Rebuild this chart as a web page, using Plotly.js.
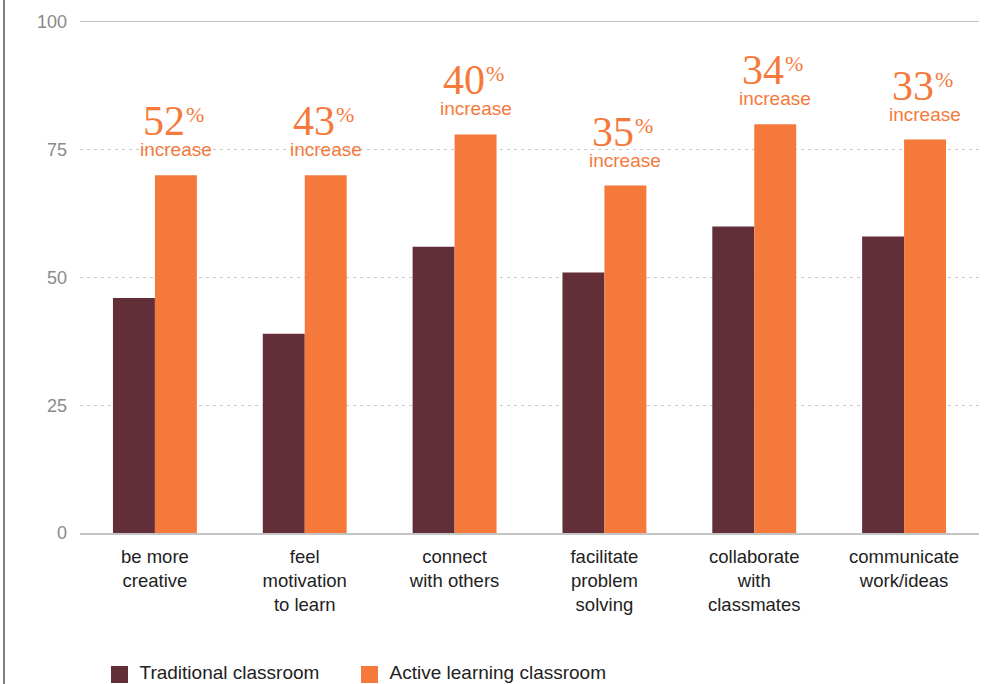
<!DOCTYPE html>
<html>
<head>
<meta charset="utf-8">
<script src="https://cdn.plot.ly/plotly-3.0.1.min.js"></script>
<style>html,body{margin:0;padding:0;background:#fff;}#chart{width:993px;height:684px;}</style>
</head>
<body>
<div id="chart"></div>
<script>
var categories = ["be more<br>creative", "feel<br>motivation<br>to learn", "connect<br>with others", "facilitate<br>problem<br>solving", "collaborate<br>with<br>classmates", "communicate<br>work/ideas"];
var traditional = [46, 39, 56, 51, 60, 58];
var active = [70, 70, 78, 68, 80, 77];
var increaseLabels = ["52", "43", "40", "35", "34", "33"];
var yTicks = [0, 25, 50, 75, 100];

var TRAD = '#622F38', ACT = '#F5793B';
var bargap = 0.44;
var activeOffset = (1 - bargap) / 4;

var traces = [
  {type: 'bar', name: 'Traditional classroom', x: categories, y: traditional, marker: {color: TRAD}, hoverinfo: 'skip', legend: 'legend'},
  {type: 'bar', name: 'Active learning classroom', x: categories, y: active, marker: {color: ACT}, hoverinfo: 'skip', legend: 'legend2'}
];

var annotations = [];
for (var i = 0; i < categories.length; i++) {
  annotations.push({x: i + activeOffset, y: active[i], xref: 'x', yref: 'y', text: increaseLabels[i], showarrow: false,
    xanchor: 'right', yanchor: 'bottom', xshift: 10, yshift: 30, borderpad: 0,
    font: {family: 'Liberation Serif, DejaVu Serif, serif', size: 42, color: ACT}});
  annotations.push({x: i + activeOffset, y: active[i], xref: 'x', yref: 'y', text: '%', showarrow: false,
    xanchor: 'left', yanchor: 'bottom', xshift: 9, yshift: 47, borderpad: 0,
    font: {family: 'Liberation Serif, DejaVu Serif, serif', size: 22, color: ACT}});
  annotations.push({x: i + activeOffset, y: active[i], xref: 'x', yref: 'y', text: 'increase', showarrow: false,
    xanchor: 'center', yanchor: 'bottom', yshift: 14, borderpad: 0,
    font: {family: 'Liberation Sans, Arial, sans-serif', size: 19, color: ACT}});
}

var legendBase = {
  orientation: 'h', xref: 'paper', xanchor: 'left',
  yref: 'container', y: 0.046, yanchor: 'top',
  font: {size: 19, color: '#222'}, bgcolor: 'rgba(0,0,0,0)'
};

var layout = {
  width: 993, height: 684,
  margin: {l: 80, r: 14, t: 22, b: 151},
  paper_bgcolor: '#fff', plot_bgcolor: '#fff',
  barmode: 'group', bargap: bargap, bargroupgap: 0,
  font: {family: 'Liberation Sans, Arial, sans-serif', color: '#222'},
  xaxis: {
    type: 'category', showgrid: false, zeroline: false,
    showline: true, mirror: true, linecolor: '#c4c4c4', linewidth: 1.5,
    ticks: '', tickfont: {size: 18.5, color: '#222'}, ticklabelstandoff: 6, fixedrange: true
  },
  yaxis: {
    range: [0, 100], tickvals: yTicks, ticktext: yTicks.map(String),
    showgrid: true, gridcolor: '#c8c8c8', gridwidth: 1, griddash: '3px,4px',
    zeroline: false, showline: false, ticks: '',
    tickfont: {size: 18, color: '#8a8a8a'}, ticklabelstandoff: 12, fixedrange: true
  },
  legend: Object.assign({}, legendBase, {x: 0.0217}),
  legend2: Object.assign({}, legendBase, {x: 0.2998}),
  showlegend: true,
  annotations: annotations,
  shapes: [{type: 'line', xref: 'paper', yref: 'paper', x0: -76/899, x1: -76/899, y0: -0.4, y1: 1.1,
    line: {color: '#555', width: 1.5}}]
};

Plotly.newPlot('chart', traces, layout, {displayModeBar: false, staticPlot: true}).then(function (gd) {
  // enlarge the legend swatches to match the reference square size
  var paths = gd.querySelectorAll('.legendpoints path');
  for (var k = 0; k < paths.length; k++) {
    paths[k].setAttribute('d', 'M8.5,11.5H-8.5V-5.5H8.5Z');
  }
});
</script>
</body>
</html>
